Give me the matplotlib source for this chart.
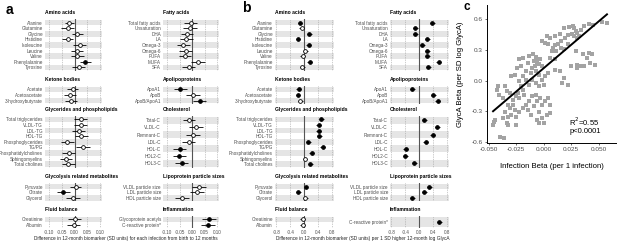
import numpy as np
import matplotlib
matplotlib.use("Agg")
import matplotlib.pyplot as plt

plt.rcParams['font.family'] = ['Liberation Sans', 'DejaVu Sans']

# === DATA ===
left_titles = ["Amino acids", "Ketone bodies", "Glycerides and phospholipids",
               "Glycolysis related metabolites", "Fluid balance"]
left_labels = [
    ["Alanine", "Glutamine", "Glycine", "Histidine", "Isoleucine", "Leucine",
     "Valine", "Phenylalanine", "Tyrosine"],
    ["Acetate", "Acetoacetate", "3-hydroxybutyrate"],
    ["Total triglycerides", "VLDL-TG", "LDL-TG", "HDL-TG", "Phosphoglycerides",
     "TG/PG", "Phosphatidylcholines", "Sphingomyelins", "Total cholines"],
    ["Pyruvate", "Citrate", "Glycerol"],
    ["Creatinine", "Albumin"],
]
right_titles = ["Fatty acids", "Apolipoproteins", "Cholesterol",
                "Lipoprotein particle sizes", "Inflammation"]
right_labels_a = [
    ["Total fatty acids", "Unsaturation", "DHA", "LA", "Omega-3", "Omega-6",
     "PUFA", "MUFA", "SFA"],
    ["ApoA1", "ApoB", "ApoB/ApoA1"],
    ["Total-C", "VLDL-C", "Remnant-C", "LDL-C", "HDL-C", "HDL2-C", "HDL3-C"],
    ["VLDL particle size", "LDL particle size", "HDL particle size"],
    ["Glycoprotein acetyls", "C-reactive protein*"],
]
right_labels_b = right_labels_a[:4] + [["C-reactive protein*"]]

# panel a: difference per infection (estimate, CI half-width, significant)
a_left_est = [-0.020, -0.027, 0.011, -0.027, 0.020, 0.009, 0.011, 0.043, 0.016,
              -0.007, -0.017, -0.013,
              0.024, 0.024, 0.017, 0.027, -0.029, 0.033, -0.023, -0.033, -0.024,
              0.004, -0.044, -0.007,
              0.000, -0.003]
a_left_ci = [0.018, 0.026, 0.022, 0.022, 0.027, 0.024, 0.025, 0.022, 0.026,
             0.022, 0.023, 0.023,
             0.027, 0.025, 0.025, 0.025, 0.025, 0.026, 0.026, 0.023, 0.024,
             0.022, 0.026, 0.028,
             0.026, 0.025]
a_left_sig = [0, 0, 0, 0, 0, 0, 0, 1, 0,
              0, 0, 0,
              0, 0, 0, 0, 0, 0, 0, 0, 0,
              0, 1, 0,
              0, 0]
a_right_est = [-0.006, -0.009, -0.020, -0.023, -0.035, -0.026, -0.028, 0.023, -0.014,
               -0.048, 0.003, 0.030,
               -0.012, 0.017, 0.003, -0.013, -0.049, -0.052, -0.042,
               0.028, 0.020, -0.041,
               0.068, 0.064]
a_right_ci = [0.025, 0.028, 0.025, 0.026, 0.026, 0.025, 0.025, 0.028, 0.027,
              0.026, 0.028, 0.027,
              0.025, 0.028, 0.028, 0.026, 0.026, 0.026, 0.025,
              0.029, 0.027, 0.027,
              0.027, 0.029]
a_right_sig = [0, 0, 0, 0, 0, 0, 0, 0, 0,
               1, 0, 1,
               0, 0, 0, 0, 1, 1, 1,
               0, 0, 0,
               1, 1]

# panel b: difference per 1 SD higher log GlycA
b_left_est = [-0.12, -0.07, 0.14, -0.18, 0.12, 0.03, -0.05, 0.16, -0.06,
              -0.16, -0.18, -0.11,
              0.48, 0.41, 0.41, 0.43, 0.11, 0.53, 0.21, 0.02, 0.17,
              0.05, -0.17, 0.03,
              -0.05, -0.05]
b_left_ci = [0.06, 0.07, 0.07, 0.07, 0.07, 0.07, 0.07, 0.07, 0.07,
             0.07, 0.07, 0.07,
             0.07, 0.07, 0.07, 0.07, 0.07, 0.07, 0.07, 0.07, 0.07,
             0.04, 0.07, 0.07,
             0.07, 0.07]
b_left_sig = [1, 0, 1, 1, 1, 0, 0, 1, 0,
              1, 1, 0,
              1, 1, 1, 1, 1, 1, 1, 0, 1,
              1, 1, 0,
              0, 0]
b_right_est = [0.37, -0.11, -0.11, 0.23, 0.09, 0.23, 0.23, 0.55, 0.26,
               -0.20, 0.40, 0.53,
               0.14, 0.51, 0.39, 0.18, -0.39, -0.40, -0.14,
               0.28, 0.14, -0.20,
               0.57]
b_right_ci = [0.07] * 23
b_right_sig = [1] * 23

# panel c: per-biomarker betas
c_infection = [
    0.0184, 0.0234, 0.0263, 0.0278, 0.0292, 0.0307, 0.0254, 0.0219, 0.0272, 0.0307,
    0.0322, 0.0342, 0.0365, 0.0409, 0.0453, 0.0535, 0.0576, 0.0146, 0.0102, 0.0196,
    0.0161, 0.0132, 0.0108, 0.0088, 0.0058, 0.0029, 0.0044, 0.0015, -0.0015, 0.0073,
    0.0117, 0.0155, 0.0184, 0.0219, 0.0292, 0.0360, 0.0409, 0.0395,
    -0.0132, -0.0096, -0.0073, -0.0050, -0.0029, -0.0088, -0.0058, -0.0038, -0.0079, -0.0102,
    -0.0015, -0.0146, -0.0190, -0.0219, -0.0205, -0.0243, -0.0161, -0.0117, -0.0073, -0.0044,
    -0.0015, 0.0015, 0.0044, 0.0102, 0.0146, 0.0000, -0.0044, -0.0073, -0.0102, -0.0132,
    -0.0161, -0.0190, -0.0219, -0.0263, -0.0292, -0.0205, 0.0058, 0.0102,
    0.0249, 0.0307, 0.0365, 0.0424, 0.0468, 0.0439, 0.0190, 0.0219, 0.0167, 0.0307, 0.0336,
    -0.0418, -0.0424, -0.0409, -0.0351, -0.0336, -0.0307, -0.0365, -0.0322, -0.0278, -0.0249,
    -0.0234, -0.0219, -0.0190, -0.0175, -0.0278, -0.0307, -0.0263, -0.0351, -0.0322, -0.0365,
    -0.0292, -0.0249, -0.0219, -0.0190, -0.0161, -0.0132, -0.0146, -0.0117, -0.0088, -0.0058,
    -0.0102, -0.0073, -0.0029, -0.0015, 0.0015, 0.0044, 0.0058, -0.0044, -0.0015, -0.0058,
    0.0000, 0.0029, 0.0058, -0.0453, -0.0439, -0.0459, -0.0336, -0.0322, -0.0249, -0.0395,
    -0.0360, -0.0044]
c_glyca = [
    0.511, 0.525, 0.534, 0.511, 0.485, 0.469, 0.452, 0.446, 0.436, 0.420,
    0.436, 0.492, 0.534, 0.551, 0.544, 0.577, 0.567, 0.459, 0.436, 0.420,
    0.387, 0.361, 0.348, 0.321, 0.420, 0.436, 0.354, 0.370, 0.387, 0.289,
    0.289, 0.321, 0.305, 0.361, 0.289, 0.256, 0.272, 0.223,
    0.239, 0.256, 0.230, 0.216, 0.207, 0.190, 0.184, 0.164, 0.141, 0.125,
    0.141, 0.174, 0.223, 0.216, 0.141, 0.125, 0.092, 0.075, 0.092, 0.059,
    0.010, 0.043, 0.075, 0.108, 0.092, -0.039, -0.056, -0.023, 0.010, -0.039,
    0.010, 0.043, -0.007, 0.059, 0.043, -0.056, 0.223, 0.207,
    0.141, 0.157, 0.141, 0.174, 0.157, 0.256, 0.026, -0.039, -0.023, 0.125, 0.141,
    -0.056, -0.089, -0.138, -0.056, -0.105, -0.121, -0.170, -0.236, -0.187, -0.154,
    -0.121, -0.170, -0.089, -0.138, -0.236, -0.269, -0.285, -0.302, -0.351, -0.367,
    -0.334, -0.351, -0.302, -0.269, -0.236, -0.203, -0.285, -0.334, -0.252, -0.203,
    -0.154, -0.138, -0.170, -0.236, -0.203, -0.170, -0.236, -0.302, -0.367, -0.384,
    -0.416, -0.334, -0.318, -0.400, -0.384, -0.433, -0.416, -0.433, -0.433, -0.548,
    -0.557, -0.416]
fit_slope = 9.16
fit_intercept = 0.121
fit_r2 = "0.55"
fit_p = "p<0.0001"

# === LAYOUT (pixels) ===
W, H = 617, 242
UNIT = 5.6
PANEL_TOPS = [19.3, 86.0, 116.0, 183.3, 216.0]
BAND = '#e5e5e5'


def px_box(x0, y0, x1, y1):
    return [x0 / W, 1 - y1 / H, (x1 - x0) / W, (y1 - y0) / H]


def draw_column(fig, x0, x1, titles, groups, est, ci, sig, xlim, ticks, ticklabels):
    k = 0
    for g, labels in enumerate(groups):
        n_ref = len(left_labels[g])
        top = PANEL_TOPS[g]
        h = (n_ref + 0.2) * UNIT
        ax = fig.add_axes(px_box(x0, top, x1, top + h))
        n = len(labels)
        y = np.arange(n)
        e = np.array(est[k:k + n])
        c = np.array(ci[k:k + n])
        s = np.array(sig[k:k + n], dtype=bool)
        k += n
        ax.set_ylim(n - 0.4, -0.6)
        ax.set_xlim(*xlim)
        for i in range(0, n, 2):
            ax.axhspan(i - 0.5, i + 0.5, color=BAND, lw=0, zorder=0)
        for t in ticks:
            if t != 0:
                ax.axvline(t, color='#9a9a9a', ls=(0, (1, 1.5)), lw=0.5, zorder=1)
        ax.axvline(0, color='#555555', lw=0.8, zorder=1)
        ax.hlines(y, e - c, e + c, color='black', lw=0.6, zorder=2)
        ax.plot(e[~s], y[~s], 'o', mfc='white', mec='black', ms=2.7, mew=0.6, zorder=3)
        ax.plot(e[s], y[s], 'o', mfc='black', mec='black', ms=2.7, mew=0.6, zorder=3)
        ax.set_yticks(y)
        ax.set_yticklabels(labels, fontsize=3.3, color='#4d4d4d')
        ax.tick_params(axis='y', length=0, pad=1.5)
        ax.set_xticks(ticks)
        if g == len(groups) - 1:
            ax.set_xticklabels(ticklabels, fontsize=3.3, color='#4d4d4d')
            ax.tick_params(axis='x', length=0, pad=1.2)
        else:
            ax.tick_params(axis='x', length=0, labelbottom=False)
        for sp in ax.spines.values():
            sp.set_visible(False)
        fig.text(x0 / W, 1 - (top - 6.6) / H, titles[g], fontsize=3.6,
                 weight='bold', va='center', ha='left')


fig = plt.figure(figsize=(W / 100, H / 100), dpi=100)

a_ticks = [-0.10, -0.05, 0.0, 0.05, 0.10]
a_tlab = ["-0.10", "-0.05", "0.00", "0.05", "0.10"]
b_ticks = [-0.8, -0.4, 0.0, 0.4, 0.8]
b_tlab = ["-0.8", "-0.4", "0.0", "0.4", "0.8"]

draw_column(fig, 45, 102, left_titles, left_labels, a_left_est, a_left_ci, a_left_sig,
            (-0.116, 0.108), a_ticks, a_tlab)
draw_column(fig, 163, 219, right_titles, right_labels_a, a_right_est, a_right_ci, a_right_sig,
            (-0.116, 0.108), a_ticks, a_tlab)
draw_column(fig, 275, 334, left_titles, left_labels, b_left_est, b_left_ci, b_left_sig,
            (-0.84, 0.85), b_ticks, b_tlab)
draw_column(fig, 390, 449, right_titles, right_labels_b, b_right_est, b_right_ci, b_right_sig,
            (-0.84, 0.85), b_ticks, b_tlab)

fig.text(126 / W, 1 - 238.3 / H,
         "Difference in 12-month biomarker (SD units) for each infection from birth to 12 months",
         fontsize=3.4, color='#222222', ha='center', va='center')
fig.text(363 / W, 1 - 238.3 / H,
         "Difference in 12-month biomarker (SD units) per 1 SD higher 12-month log GlycA",
         fontsize=3.4, color='#222222', ha='center', va='center')

fig.text(6 / W, 1 - 10 / H, "a", fontsize=10, weight='bold', va='center', ha='left')
fig.text(242 / W, 1 - 8 / H, "b", fontsize=10, weight='bold', va='center', ha='left')
fig.text(464 / W, 1 - 7 / H, "c", fontsize=8.5, weight='bold', va='center', ha='left')

# panel c scatter
axc = fig.add_axes(px_box(487, 5, 616, 143))
cx = np.array(c_infection)
cy = np.array(c_glyca)
axc.scatter(cx, cy, marker='s', s=6.5, color='#a3a3a3', lw=0, zorder=2)
lx = np.array([cx.min(), cx.max()])
axc.plot(lx, fit_slope * lx + fit_intercept, color='black', lw=1.4, zorder=3)
axc.text(0.0234, -0.40, "R$^2$=" + fit_r2, fontsize=5.5, va='center', ha='left')
axc.text(0.0234, -0.50, fit_p, fontsize=5.5, va='center', ha='left')
axc.set_xlim(-0.0514, 0.0658)
axc.set_ylim(-0.61, 0.74)
axc.set_xticks([-0.05, -0.025, 0.0, 0.025, 0.05])
axc.set_xticklabels(["-0.050", "-0.025", "0.000", "0.025", "0.050"])
axc.set_yticks([-0.6, -0.3, 0.0, 0.3, 0.6])
axc.set_yticklabels(["-0.6", "-0.3", "0.0", "0.3", "0.6"])
axc.tick_params(labelsize=4.6, labelcolor='#4d4d4d', length=1.5, width=0.5, pad=1.5,
                color='#333333')
for side in ['top', 'right']:
    axc.spines[side].set_visible(False)
for side in ['left', 'bottom']:
    axc.spines[side].set_linewidth(0.7)
axc.set_xlabel("Infection Beta (per 1 infection)", fontsize=5.6)
axc.set_ylabel("GlycA Beta (per SD log GlycA)", fontsize=5.6)
axc.xaxis.set_label_coords(0.5, -0.145)
axc.yaxis.set_label_coords(-0.175, 0.5)

fig.savefig("out.png", dpi=100)
